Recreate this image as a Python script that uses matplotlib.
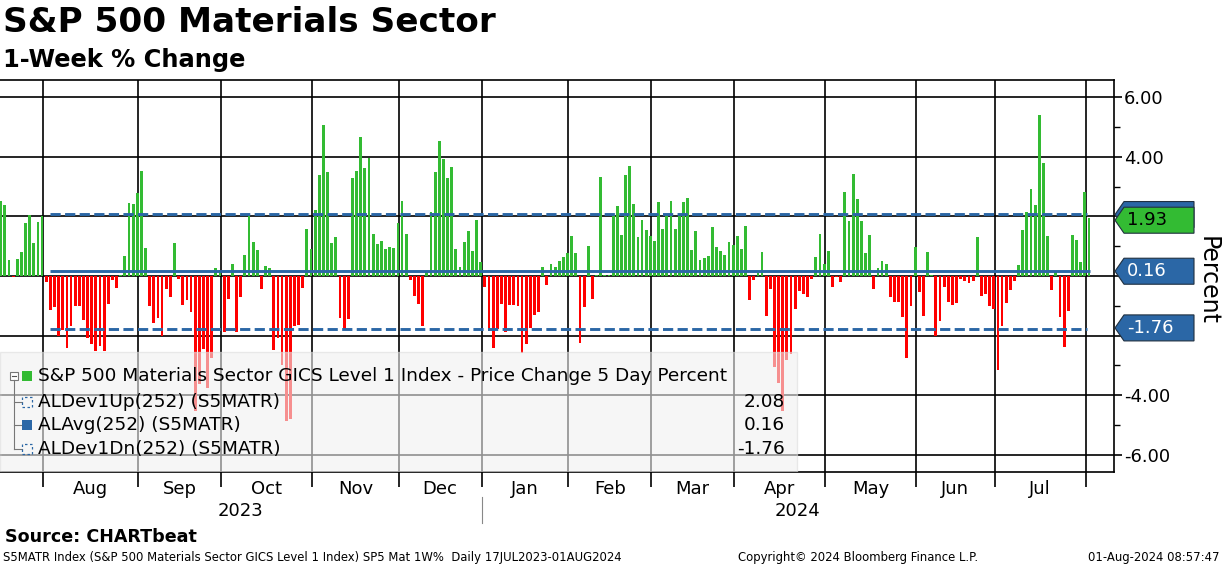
import numpy as np
import matplotlib
matplotlib.use('Agg')
import matplotlib.pyplot as plt
import matplotlib.transforms as mtransforms
from matplotlib.patches import Polygon, Rectangle

plt.rcParams['axes.unicode_minus'] = False
plt.rcParams['font.family'] = 'DejaVu Sans'

# S5MATR 5 day % change, one list per month of trading days
jul23 = [2.53, 2.37, 0.53, -0.02, 0.57, 0.80, 1.77, 2.03, 1.10, 1.80, 2.00]
aug23 = [-0.19, -1.13, -1.04, -2.00, -1.82, -2.42, -1.67, -0.99, -0.99, -1.49, -2.07, -2.27,
         -2.52, -2.36, -2.52, -0.94, -0.13, -0.39, 0.03, 0.68, 2.44, 2.40, 2.77]
sep23 = [3.53, 0.93, -1.02, -1.58, -1.42, -2.02, -0.44, -0.71, 1.10, -0.11, -0.97, -0.80,
         -1.22, -4.52, -3.63, -2.44, -3.77, -2.76, 0.26, 0.20]
oct23 = [-1.89, -0.76, 0.40, -1.89, -0.72, 0.70, 2.03, 1.13, 0.87, -0.43, 0.33, 0.26,
         -2.49, -2.08, -2.97, -4.86, -4.80, -1.67, -1.63, -0.41, 1.59, 0.92]
nov23 = [2.20, 3.40, 5.07, 3.50, 1.12, 1.30, -1.41, -1.80, -1.44, 3.30, 3.53, 4.67,
         3.63, 3.94, 1.42, 1.07, 1.17, 0.90, 0.98, 0.93, 1.76]
dec23 = [2.53, 1.42, -0.13, -0.67, -0.94, -1.69, 0.15, 2.13, 3.50, 4.53, 3.92, 3.30,
         3.67, 0.92, 0.29, 1.13, 1.50, 0.83, 1.87, 0.48]
jan24 = [-0.36, -1.83, -2.41, -1.79, -0.94, -1.88, -0.97, -0.97, -1.02, -2.58, -2.29, -1.74,
         -1.32, -1.19, 0.30, -0.29, 0.40, 0.29, 0.50, 0.64, 0.78]
feb24 = [1.34, 0.78, -2.24, -1.04, 1.01, -0.78, 0.04, 3.33, 0.03, 0.05, 2.03, 2.33,
         1.37, 3.40, 3.70, 2.40, 1.31, 1.87, 1.53, 1.34]
mar24 = [1.17, 2.47, 1.58, 2.03, 2.53, 1.58, 2.00, 2.47, 2.63, 0.87, 1.50, 0.53,
         0.62, 0.68, 1.64, 0.98, 0.84, 0.71, 1.13, 1.03]
apr24 = [1.33, 0.89, 1.67, -0.80, -0.13, 0.11, 0.79, -1.33, -0.42, -3.04, -3.59, -4.52,
         -2.81, -2.62, -1.10, -0.50, -0.59, -0.72, -0.09, 0.64, 1.40, 0.40]
may24 = [0.83, -0.36, -0.03, -0.19, 2.80, 1.83, 3.43, 2.57, 1.83, 0.77, 1.37, -0.42,
         0.27, 0.50, 0.40, -0.72, -0.86, -0.86, -1.39, -2.74, -0.99, 0.98]
jun24 = [-0.52, -1.33, 0.80, 0.03, -2.00, -1.52, -0.36, -0.86, -0.96, -0.89, -0.09, -0.16,
         -0.24, -0.16, 1.30, -0.66, -0.59, -0.99, -1.09]
jul24 = [-3.16, -1.69, -0.89, -0.46, -0.16, 0.38, 1.53, 2.13, 2.93, 2.37, 5.40, 3.80,
         1.33, -0.46, 0.14, -1.36, -2.39, -1.16, 1.37, 1.20, 0.47, 2.80]
aug24 = [1.93]

months = [jul23, aug23, sep23, oct23, nov23, dec23, jan24, feb24, mar24, apr24, may24, jun24, jul24, aug24]
month_names = ['Jul', 'Aug', 'Sep', 'Oct', 'Nov', 'Dec', 'Jan', 'Feb', 'Mar', 'Apr', 'May', 'Jun', 'Jul', 'Aug']
years = ['2023', '2024']

dev_up = 2.08
avg = 0.16
dev_dn = -1.76
last = 1.93

GREEN = '#33bb33'
RED = '#ff0000'
BLUE = '#2b67a6'

values = np.concatenate([np.array(m) for m in months])
x = np.arange(len(values))
starts = np.cumsum([0] + [len(m) for m in months])[:-1]
bounds = starts[1:] - 0.8          # month separators (Aug23 .. Aug24)

fig = plt.figure(figsize=(12.24, 5.66), dpi=100)
ax = fig.add_axes([0, 94 / 566, 1114 / 1224, 392 / 566])

ax.bar(x, values, width=0.68, color=np.where(values >= 0, GREEN, RED), zorder=3)

# rolling stats lines
x0, x1 = 12, len(values) - 1
ax.hlines(avg, x0, x1 + 0.3, color=BLUE, lw=2.1, zorder=4)
ax.hlines([dev_up, dev_dn], x0, x1 - 0.5, color=BLUE, lw=2.1, linestyles=(0, (3.5, 1.5)), zorder=4)

xl = (-0.17, len(values) - 1 + 6.05)
ax.set_xlim(*xl)
ax.set_ylim(-6.57, 6.57)

# grid
yt = np.arange(-6, 7, 2)
ax.set_yticks(yt)
ax.set_yticks(np.arange(-5, 6, 2), minor=True)
# labels at 2, 0, -2 sit under the value tags
ax.set_yticklabels(['' if abs(v) <= 2 else '%.2f' % v for v in yt])
ax.yaxis.grid(True, color='black', lw=1.2, zorder=1)
for b in bounds:
    ax.axvline(b, color='black', lw=1.2, zorder=1)

ax.yaxis.tick_right()
ax.tick_params(axis='y', which='major', direction='out', length=6, width=1.2, labelsize=13, pad=1)
ax.tick_params(axis='y', which='minor', direction='out', length=4, width=1.0)

ax.set_xticks(bounds)
ax.set_xticklabels([])
ax.tick_params(axis='x', which='major', direction='out', length=11, width=1.2)
centers = (bounds[:-1] + bounds[1:]) / 2
ax.set_xticks(centers, minor=True)
ax.set_xticklabels(month_names[1:-1], minor=True)
ax.tick_params(axis='x', which='minor', length=0, labelsize=13, pad=6)

ax.spines['left'].set_visible(False)
for s in ['top', 'bottom', 'right']:
    ax.spines[s].set_linewidth(1.2)

# year labels under the month labels
jan_b = bounds[5]
tb = mtransforms.blended_transform_factory(ax.transData, ax.transAxes)
ax.text((xl[0] + jan_b) / 2, -0.1, years[0], transform=tb, ha='center', va='center', fontsize=13)
ax.text((jan_b + xl[1]) / 2, -0.1, years[1], transform=tb, ha='center', va='center', fontsize=13)
ax.plot([jan_b, jan_b], [-0.064, -0.13], transform=tb, color='#888888', lw=0.8, clip_on=False)

# value tags on the right
tr = mtransforms.blended_transform_factory(ax.transAxes, ax.transData)
px = 1 / 1114
hh = 13 / 29.83

def tag(yc, face, txt, tcol, z):
    pts = [(1 + px, yc), (1 + 10 * px, yc + hh), (1 + 80 * px, yc + hh),
           (1 + 80 * px, yc - hh), (1 + 10 * px, yc - hh)]
    ax.add_patch(Polygon(pts, closed=True, transform=tr, facecolor=face, edgecolor='#203040',
                         lw=0.8, clip_on=False, zorder=z))
    if txt:
        ax.text(1 + 13 * px, yc, txt, transform=tr, color=tcol, fontsize=13, ha='left',
                va='center', clip_on=False, zorder=z + 0.1)

tag(2.06, BLUE, '', 'white', 6)
tag(1.87, GREEN, '%.2f' % last, 'black', 7)
tag(0.16, BLUE, '%.2f' % avg, 'white', 6)
tag(-1.74, BLUE, '%.2f' % dev_dn, 'white', 6)

fig.text(1208 / 1224, 1 - 280 / 566, 'Percent', rotation=270, fontsize=17, ha='center', va='center')

# legend panel
ah = 392.0
ax.add_patch(Rectangle((0, 0), 797 / 1114, 120 / ah, transform=ax.transAxes, facecolor='#f0f0f0',
                       edgecolor='#dddddd', alpha=0.6, zorder=8))
rows = [376, 402, 425, 449]
ry = [(472 - r) / ah for r in rows]
lx = 38 / 1114
ax.text(lx, ry[0], 'S&P 500 Materials Sector GICS Level 1 Index - Price Change 5 Day Percent',
        transform=ax.transAxes, fontsize=13.3, va='center', zorder=9)
names = ['ALDev1Up(252) (S5MATR)', 'ALAvg(252) (S5MATR)', 'ALDev1Dn(252) (S5MATR)']
vals = [dev_up, avg, dev_dn]
for r, n, v in zip(ry[1:], names, vals):
    ax.text(lx, r, n, transform=ax.transAxes, fontsize=13.3, va='center', zorder=9)
    ax.text(785 / 1114, r, '%.2f' % v, transform=ax.transAxes, fontsize=13.3, va='center', ha='right', zorder=9)

# legend icons and tree
sq = 10 / 1114
sqh = 10 / ah
ax.add_patch(Rectangle((22 / 1114, ry[0] - sqh / 2), sq, sqh, transform=ax.transAxes,
                       facecolor=GREEN, edgecolor='none', zorder=9))
ax.add_patch(Rectangle((10 / 1114, ry[0] - 4 / ah), 8 / 1114, 8 / ah, transform=ax.transAxes,
                       facecolor='white', edgecolor='#777777', lw=0.8, zorder=9))
ax.plot([12 / 1114, 16 / 1114], [ry[0], ry[0]], transform=ax.transAxes, color='#555555', lw=0.8, zorder=10)
ax.plot([14 / 1114, 14 / 1114], [ry[0] - 4 / ah, ry[3]], transform=ax.transAxes, color='#777777', lw=0.8, zorder=9)
for r in ry[1:]:
    ax.plot([14 / 1114, 22 / 1114], [r, r], transform=ax.transAxes, color='#777777', lw=0.8, zorder=9)
for r, filled in zip(ry[1:], [False, True, False]):
    if filled:
        ax.add_patch(Rectangle((22 / 1114, r - sqh / 2), sq, sqh, transform=ax.transAxes,
                               facecolor=BLUE, edgecolor='none', zorder=9))
    else:
        ax.add_patch(Rectangle((22 / 1114, r - sqh / 2), sq, sqh, transform=ax.transAxes,
                               facecolor='none', edgecolor=BLUE, lw=0.9, ls=(0, (2, 2)), zorder=9))

# titles and footer
fig.text(3 / 1224, 1 - 23 / 566, 'S&P 500 Materials Sector', fontsize=24.7, fontweight='bold', va='center')
fig.text(3 / 1224, 1 - 60 / 566, '1-Week % Change', fontsize=17.4, fontweight='bold', va='center')
fig.text(5 / 1224, 1 - 537 / 566, 'Source: CHARTbeat', fontsize=12.6, fontweight='bold', va='center')
fig.text(3 / 1224, 1 - 557 / 566,
         'S5MATR Index (S&P 500 Materials Sector GICS Level 1 Index) SP5 Mat 1W%  Daily 17JUL2023-01AUG2024',
         fontsize=8.4, va='center')
fig.text(738 / 1224, 1 - 557 / 566, 'Copyright\u00a9 2024 Bloomberg Finance L.P.', fontsize=8.4, va='center')
fig.text(1220 / 1224, 1 - 557 / 566, '01-Aug-2024 08:57:47', fontsize=8.4, va='center', ha='right')

fig.savefig('out.png', dpi=100)
